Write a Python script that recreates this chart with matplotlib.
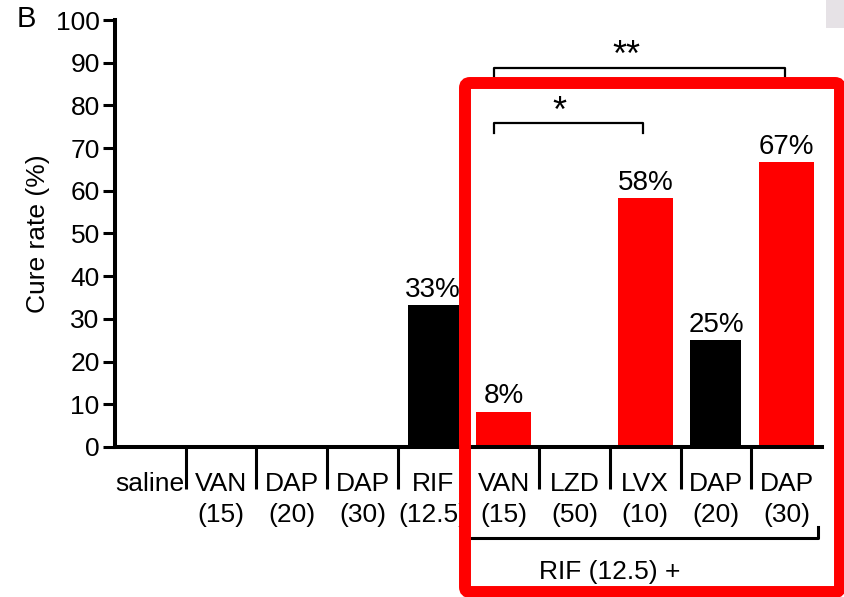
import matplotlib
matplotlib.use("Agg")
import matplotlib.pyplot as plt
from matplotlib.patches import FancyBboxPatch, Rectangle
from matplotlib.transforms import blended_transform_factory

plt.rcParams['font.family'] = ['Liberation Sans', 'DejaVu Sans']

# группы лечения и доля излеченных (%)
labels = ["saline", "VAN\n(15)", "DAP\n(20)", "DAP\n(30)", "RIF\n(12.5)",
          "VAN\n(15)", "LZD\n(50)", "LVX\n(10)", "DAP\n(20)", "DAP\n(30)"]
cure = [0, 0, 0, 0, 33.3, 8.3, 0, 58.3, 25.0, 66.7]
shown = ["", "", "", "", "33%", "8%", "", "58%", "25%", "67%"]
colors = ["black", "black", "black", "black", "black",
          "red", "red", "red", "black", "red"]
widths = [0.72, 0.72, 0.72, 0.72, 0.72, 0.78, 0.78, 0.78, 0.72, 0.78]

fig = plt.figure(figsize=(8.45, 5.97), dpi=100)
ax = fig.add_axes([115 / 845, 1 - 447 / 597, 707 / 845, 427 / 597])

x = list(range(len(cure)))
ax.bar(x, cure, width=widths, color=colors, zorder=2)
for i in x:
    if shown[i]:
        ax.text(i, cure[i] + 0.5, shown[i], ha="center", va="bottom", fontsize=20)

ax.set_xlim(-0.5, len(cure) - 0.5)
ax.set_ylim(0, 100)
ax.set_yticks(range(0, 101, 10))
ax.tick_params(axis="y", direction="out", length=9, width=2.2, labelsize=19, pad=2)
ax.set_xticks(x)
ax.set_xticklabels(labels, fontsize=19, linespacing=1.35)
ax.tick_params(axis="x", which="major", length=0, pad=18)
ax.set_xticks([i + 0.5 for i in range(len(cure) - 1)], minor=True)
ax.tick_params(axis="x", which="minor", direction="out", length=30, width=2.2)
for s in ["top", "right"]:
    ax.spines[s].set_visible(False)
for s in ["left", "bottom"]:
    ax.spines[s].set_linewidth(2.9)
ax.set_ylabel("Cure rate (%)", fontsize=19, labelpad=4)

# скобки значимости
def bracket(x0, x1, y, leg, txt, tx, ty):
    ax.plot([x0, x0, x1, x1], [y - leg, y, y, y - leg], color="black",
            lw=1.6, clip_on=False, zorder=3)
    ax.text(tx, ty, txt, ha="center", va="center", fontsize=26)

bracket(4.86, 8.98, 88.8, 2.5, "**", 6.74, 91.5)
bracket(4.86, 6.97, 75.9, 2.4, "*", 5.79, 78.3)

# подпись группы RIF (12.5) +
tr = blended_transform_factory(ax.transData, fig.transFigure)
ax.plot([4.55, 9.44, 9.44], [1 - 538 / 597, 1 - 538 / 597, 1 - 527 / 597],
        color="black", lw=2.2, transform=tr, clip_on=False)
ax.text(6.5, 1 - 572 / 597, "RIF (12.5) +", transform=tr,
        ha="center", va="center", fontsize=19)

fig.text(26 / 845, 1 - 19 / 597, "B", ha="center", va="center", fontsize=21)

# красная рамка поверх графика
over = fig.add_axes([0, 0, 1, 1], zorder=10)
over.set_xlim(0, 845)
over.set_ylim(597, 0)
over.axis("off")
over.patch.set_alpha(0)
over.add_patch(Rectangle((826, 0), 19, 28, color="#e6e2e6", lw=0))
over.add_patch(FancyBboxPatch((465, 83), 375, 509,
                              boxstyle="round,pad=0,rounding_size=5",
                              fill=False, edgecolor="red", lw=8.6))

fig.savefig("out.png", dpi=100)
